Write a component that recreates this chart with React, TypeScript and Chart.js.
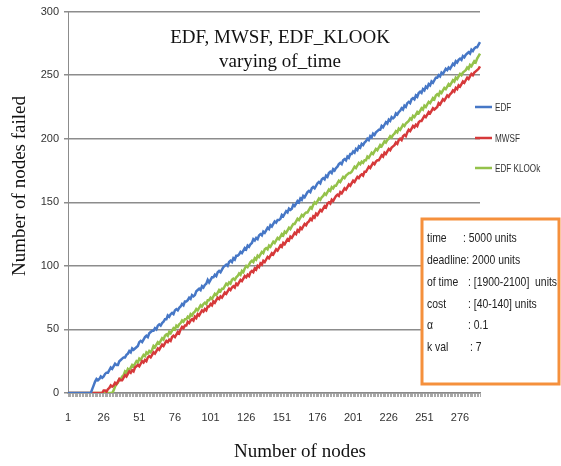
import React, { useEffect, useRef } from 'react';
import { Chart, registerables } from 'chart.js';

Chart.register(...registerables);

// ---------- data ----------
const NODES: string[] = Array.from({ length: 290 }, (_, i) => String(i + 1));
const X_TICK_LABELS = ['1', '26', '51', '76', '101', '126', '151', '176', '201', '226', '251', '276'];
const Y_TICKS = [0, 50, 100, 150, 200, 250, 300];

const SERIES_NAMES = ['EDF', 'MWSF', 'EDF KLOOk'];
const SERIES_COLORS = ['#4677c6', '#d6393a', '#94c24a'];

const EDF = [
  0, 0, 0, 0, 0, 0, 0, 0, 0, 0,
  0, 0, 0, 0, 0, 0, 0, 3, 6, 9,
  11, 10, 11, 13, 12, 13, 15, 16, 16, 18,
  20, 19, 21, 23, 22, 22, 25, 26, 27, 28,
  28, 30, 31, 33, 32, 35, 34, 35, 36, 37,
  40, 41, 40, 42, 44, 45, 44, 47, 48, 49,
  49, 51, 50, 53, 54, 53, 55, 56, 58, 58,
  61, 60, 62, 63, 62, 65, 66, 65, 67, 68,
  70, 69, 72, 72, 73, 75, 74, 77, 76, 77,
  80, 81, 82, 81, 84, 83, 85, 86, 89, 87,
  89, 91, 91, 93, 92, 95, 96, 95, 97, 99,
  100, 101, 100, 103, 104, 103, 106, 105, 108, 108,
  109, 111, 110, 112, 114, 113, 116, 115, 117, 118,
  121, 120, 122, 121, 124, 125, 124, 127, 126, 128,
  130, 129, 132, 131, 133, 135, 134, 136, 136, 137,
  140, 139, 141, 143, 142, 145, 144, 145, 148, 147,
  149, 151, 150, 153, 152, 155, 154, 156, 158, 159,
  158, 161, 162, 161, 163, 165, 166, 165, 168, 169,
  168, 171, 170, 173, 174, 173, 176, 175, 177, 178,
  180, 181, 180, 183, 184, 183, 186, 185, 188, 188,
  190, 189, 192, 191, 194, 193, 196, 195, 197, 198,
  200, 199, 202, 201, 204, 203, 205, 206, 207, 207,
  210, 209, 211, 213, 212, 215, 214, 217, 216, 217,
  220, 219, 221, 222, 224, 223, 226, 225, 228, 229,
  228, 231, 232, 231, 234, 233, 236, 237, 236, 239,
  238, 241, 240, 243, 242, 245, 244, 246, 248, 248,
  250, 249, 252, 251, 253, 255, 254, 256, 255, 257,
  259, 258, 261, 260, 262, 263, 262, 265, 264, 266,
  267, 268, 267, 270, 269, 271, 272, 272, 274, 276,
];

const MWSF = [
  0, 0, 0, 0, 0, 0, 0, 0, 0, 0,
  0, 0, 0, 0, 0, 0, 0, 0, 0, 0,
  0, 0, 0, 0, 0, 2, 2, 1, 3, 4,
  6, 5, 6, 8, 7, 9, 11, 10, 10, 12,
  14, 13, 15, 17, 16, 18, 17, 20, 21, 22,
  21, 23, 25, 24, 26, 25, 28, 29, 28, 30,
  32, 31, 33, 35, 34, 36, 38, 37, 39, 41,
  40, 42, 41, 44, 45, 44, 46, 48, 47, 50,
  52, 51, 53, 53, 56, 55, 57, 58, 57, 60,
  59, 62, 61, 63, 65, 64, 66, 65, 68, 68,
  70, 69, 72, 71, 73, 75, 74, 76, 75, 77,
  79, 78, 80, 82, 81, 83, 84, 83, 86, 85,
  87, 89, 88, 90, 92, 91, 93, 92, 95, 96,
  95, 98, 97, 100, 99, 102, 101, 104, 103, 105,
  107, 106, 108, 110, 109, 111, 113, 112, 114, 116,
  115, 118, 117, 119, 121, 120, 123, 122, 124, 126,
  125, 128, 127, 130, 129, 131, 133, 132, 134, 135,
  137, 136, 139, 138, 141, 140, 142, 144, 143, 145,
  147, 146, 149, 150, 149, 152, 151, 153, 155, 156,
  155, 158, 157, 159, 161, 160, 162, 164, 163, 165,
  167, 166, 168, 170, 169, 171, 172, 171, 174, 174,
  176, 178, 177, 179, 181, 180, 182, 183, 183, 185,
  187, 186, 189, 188, 190, 192, 191, 193, 194, 195,
  197, 196, 199, 200, 199, 202, 203, 202, 205, 207,
  206, 208, 210, 209, 211, 210, 213, 214, 214, 216,
  218, 217, 219, 221, 220, 222, 224, 223, 224, 225,
  228, 227, 229, 231, 230, 232, 234, 233, 235, 236,
  238, 237, 240, 239, 242, 241, 243, 245, 244, 246,
  248, 247, 249, 251, 250, 252, 253, 254, 255, 257,
];

const EDF_KLOOK = [
  0, 0, 0, 0, 0, 0, 0, 0, 0, 0,
  0, 0, 0, 0, 0, 0, 0, 0, 0, 0,
  0, 0, 0, 0, 0, 0, 0, 0, 0, 0,
  0, 0, 2, 5, 7, 8, 11, 11, 13, 14,
  17, 16, 19, 18, 20, 22, 21, 23, 25, 24,
  27, 26, 28, 30, 29, 32, 31, 33, 32, 34,
  37, 36, 38, 40, 39, 41, 43, 42, 45, 46,
  45, 48, 47, 49, 51, 50, 53, 52, 54, 55,
  57, 56, 58, 58, 60, 59, 62, 61, 63, 64,
  66, 65, 67, 69, 68, 70, 71, 70, 73, 73,
  75, 74, 76, 78, 77, 79, 81, 80, 82, 82,
  84, 86, 85, 87, 86, 89, 90, 89, 91, 92,
  94, 93, 96, 95, 98, 100, 99, 101, 103, 104,
  103, 106, 105, 108, 107, 109, 111, 110, 113, 114,
  113, 116, 115, 117, 119, 118, 120, 122, 121, 123,
  125, 124, 127, 126, 128, 130, 129, 131, 133, 133,
  135, 137, 136, 138, 140, 139, 141, 142, 142, 144,
  146, 145, 148, 150, 149, 151, 153, 152, 154, 155,
  157, 156, 158, 160, 159, 162, 161, 163, 163, 165,
  167, 166, 168, 170, 169, 171, 172, 173, 173, 174,
  176, 178, 177, 179, 181, 180, 182, 181, 183, 183,
  186, 185, 187, 189, 188, 190, 192, 191, 193, 195,
  194, 196, 198, 197, 199, 200, 202, 201, 203, 204,
  206, 205, 208, 207, 209, 211, 210, 212, 213, 214,
  216, 215, 218, 217, 219, 221, 220, 222, 224, 223,
  226, 225, 227, 229, 228, 230, 232, 231, 234, 235,
  234, 237, 236, 238, 240, 239, 241, 243, 242, 244,
  246, 245, 248, 247, 249, 251, 250, 252, 253, 254,
  256, 255, 258, 257, 259, 261, 260, 263, 265, 267,
];

const TITLE_LINES = ['EDF, MWSF, EDF_KLOOK', 'varying of_time'];
const X_TITLE = 'Number of nodes';
const Y_TITLE = 'Number of nodes failed';
const INFO_LABELS = ['time', 'deadline: 2000 units', 'of time', 'cost', '\u03b1', 'k val'];
const INFO_VALUES = [': 5000 units', '', ': [1900-2100]  units', ': [40-140] units', ': 0.1', ': 7'];

// ---------- styling ----------
const SERIF = '"Liberation Serif", "Times New Roman", "DejaVu Serif", serif';
const SANS = '"Liberation Sans", Arial, sans-serif';

function drawNarrow(
  ctx: CanvasRenderingContext2D,
  text: string,
  x: number,
  y: number,
  size: number,
  squeeze: number
) {
  ctx.save();
  ctx.translate(x, y);
  ctx.scale(squeeze, 1);
  ctx.font = `${size}px ${SANS}`;
  ctx.fillText(text, 0, 0);
  ctx.restore();
}

const overlayPlugin = {
  id: 'overlay',
  afterDraw(chart: any) {
    const ctx: CanvasRenderingContext2D = chart.ctx;
    ctx.save();

    // chart title (inside plot area)
    ctx.fillStyle = '#111';
    ctx.font = `19px ${SERIF}`;
    ctx.textAlign = 'center';
    ctx.textBaseline = 'alphabetic';
    ctx.fillText(TITLE_LINES[0], 280, 43);
    ctx.fillText(TITLE_LINES[1], 280, 67);

    // x axis title
    ctx.fillText(X_TITLE, 300, 457);

    // y axis title
    ctx.save();
    ctx.translate(25, 186);
    ctx.rotate(-Math.PI / 2);
    ctx.fillText(Y_TITLE, 0, 0);
    ctx.restore();

    // legend
    const legendY = [107, 138, 168];
    chart.data.datasets.forEach((ds: any, i: number) => {
      ctx.strokeStyle = ds.borderColor;
      ctx.lineWidth = 2.5;
      ctx.beginPath();
      ctx.moveTo(475, legendY[i]);
      ctx.lineTo(492, legendY[i]);
      ctx.stroke();
      ctx.fillStyle = '#333';
      ctx.textAlign = 'left';
      ctx.textBaseline = 'middle';
      drawNarrow(ctx, ds.label, 495, legendY[i] + 1, 11, 0.74);
    });

    // info box
    ctx.fillStyle = '#fff';
    ctx.fillRect(422, 219, 138, 165);
    ctx.strokeStyle = '#f5903c';
    ctx.lineWidth = 3;
    ctx.strokeRect(422, 219, 137, 165);
    const rowY = [238, 260, 282, 304, 325, 347];
    const valX = [463, 0, 468, 468, 468, 470];
    ctx.fillStyle = '#222';
    ctx.textAlign = 'left';
    ctx.textBaseline = 'middle';
    INFO_LABELS.forEach((lab, i) => {
      drawNarrow(ctx, lab, 427, rowY[i], 13, 0.8);
      if (INFO_VALUES[i]) drawNarrow(ctx, INFO_VALUES[i], valX[i], rowY[i], 13, 0.8);
    });

    ctx.restore();
  },
};

export default function App() {
  const canvasRef = useRef<HTMLCanvasElement | null>(null);

  useEffect(() => {
    document.body.style.margin = '0';
    const canvas = canvasRef.current;
    if (!canvas) return;
    const tickFont = { family: SANS, size: 11 };
    const chart = new Chart(canvas, {
      type: 'line',
      data: {
        labels: NODES,
        datasets: [EDF, MWSF, EDF_KLOOK].map((values, i) => ({
          label: SERIES_NAMES[i],
          data: values,
          borderColor: SERIES_COLORS[i],
          backgroundColor: SERIES_COLORS[i],
          borderWidth: 2.5,
          pointRadius: 0,
          tension: 0,
          fill: false,
        })),
      },
      options: {
        animation: false,
        responsive: false,
        maintainAspectRatio: false,
        layout: { padding: { top: 10, right: 81, left: 0, bottom: 0 } },
        plugins: {
          legend: { display: false },
          title: { display: false },
          tooltip: { enabled: false },
        },
        scales: {
          x: {
            type: 'category',
            offset: false,
            grid: {
              display: true,
              drawOnChartArea: false,
              drawTicks: true,
              tickLength: 4,
              color: '#a8a8a8',
              lineWidth: 1,
            },
            border: { display: true, color: '#8a8a8a', width: 1.5 },
            ticks: {
              autoSkip: false,
              maxRotation: 0,
              minRotation: 0,
              padding: 14,
              color: '#333',
              font: tickFont,
              callback: (_v: any, i: number) =>
                X_TICK_LABELS.includes(NODES[i]) ? NODES[i] : '',
            },
            afterFit: (scale: any) => {
              scale.height = 73;
            },
          },
          y: {
            min: 0,
            max: 300,
            afterBuildTicks: (scale: any) => {
              scale.ticks = Y_TICKS.map((v) => ({ value: v }));
            },
            grid: { color: '#8c8c8c', lineWidth: 1.5, tickLength: 4 },
            border: { display: true, color: '#8c8c8c', width: 1 },
            ticks: { padding: 5, color: '#333', font: tickFont },
            afterFit: (scale: any) => {
              scale.width = 68;
            },
          },
        },
      },
      plugins: [overlayPlugin],
    });
    return () => chart.destroy();
  }, []);

  return (
    <div style={{ width: 561, height: 466, background: '#fff' }}>
      <canvas ref={canvasRef} width={561} height={466} />
    </div>
  );
}
